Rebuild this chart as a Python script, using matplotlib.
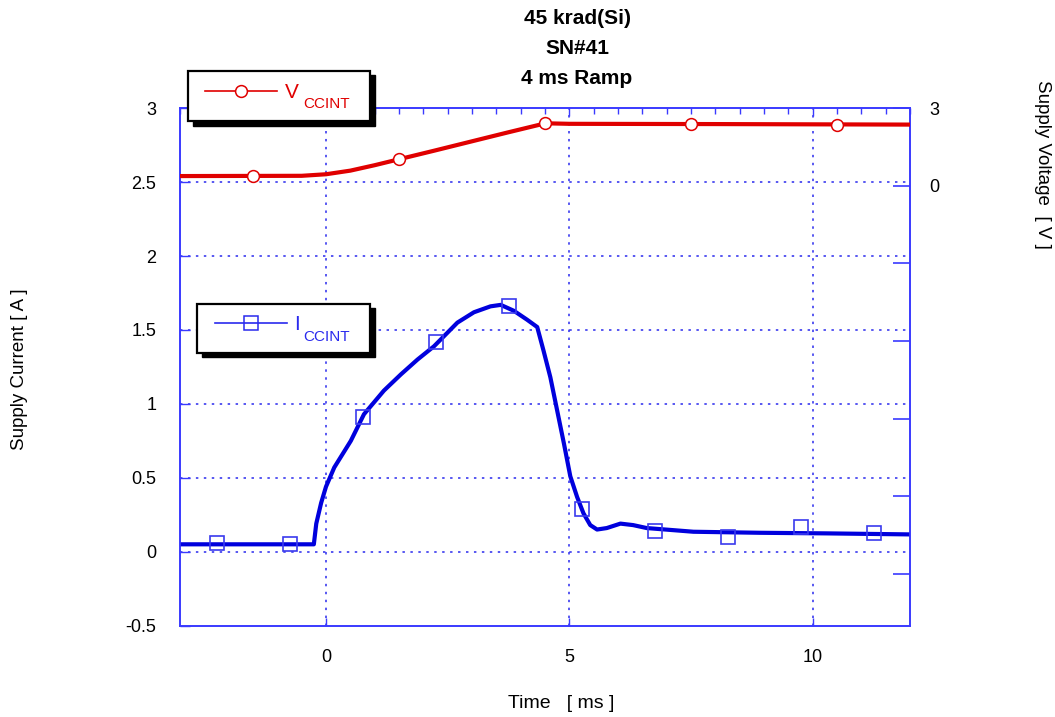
import matplotlib
matplotlib.use('Agg')
import matplotlib.pyplot as plt
from matplotlib.lines import Line2D
from matplotlib.patches import Rectangle

plt.rcParams['font.family'] = ['Liberation Sans', 'DejaVu Sans']

# ---------------- data ----------------
# Supply current I_CCINT [A] vs time [ms]
t_icc = [-3.0, -0.25, -0.2, -0.1, 0.0, 0.17, 0.51, 0.78, 1.19, 1.54, 1.88, 2.22,
         2.49, 2.70, 3.04, 3.38, 3.59, 3.86, 4.13, 4.34, 4.47, 4.61, 4.75, 4.89,
         5.02, 5.16, 5.29, 5.43, 5.57, 5.77, 6.05, 6.31, 6.59, 7.55, 8.91, 10.28, 12.0]
icc = [0.05, 0.05, 0.19, 0.33, 0.44, 0.57, 0.75, 0.93, 1.09, 1.20, 1.30, 1.39,
       1.48, 1.55, 1.62, 1.66, 1.67, 1.63, 1.57, 1.52, 1.36, 1.18, 0.955, 0.73,
       0.51, 0.37, 0.26, 0.18, 0.15, 0.16, 0.19, 0.18, 0.16, 0.135, 0.128, 0.124, 0.117]
t_icc_mk = [-2.25, -0.75, 0.75, 2.25, 3.75, 5.25, 6.75, 8.25, 9.75, 11.25]
icc_mk = [0.06, 0.05, 0.91, 1.42, 1.66, 0.29, 0.14, 0.10, 0.165, 0.128]

# Supply voltage V_CCINT [V] vs time [ms]
t_vcc = [-3.0, -0.5, 0.0, 0.5, 1.0, 1.5, 2.22, 2.97, 3.72, 4.51, 5.0, 8.0, 12.0]
vcc = [0.38, 0.39, 0.45, 0.59, 0.80, 1.03, 1.36, 1.71, 2.06, 2.42, 2.40, 2.39, 2.37]
t_vcc_mk = [-1.5, 1.5, 4.5, 7.5, 10.5]
vcc_mk = [0.38, 1.03, 2.42, 2.39, 2.35]

x_ticks = [0, 5, 10]
y_ticks_left = [-0.5, 0, 0.5, 1, 1.5, 2, 2.5, 3]
y_tick_labels_left = ['-0.5', '0', '0.5', '1', '1.5', '2', '2.5', '3']
y_ticks_right = [3, 0, -3, -6, -9, -12, -15]
y_tick_labels_right = ['3', '0', '', '', '', '', '']

# ---------------- styling ----------------
W, H = 1055, 717
RED = '#e00000'
BLUE = '#0000dd'
SPINE = '#3a3aff'
GRID = '#2a2aee'

def fx(px):
    return px / W

def fy(py):
    return 1 - py / H

fig = plt.figure(figsize=(W / 100, H / 100), dpi=100)
ax = fig.add_axes([fx(180), fy(625.6), fx(910) - fx(180), fy(108.3) - fy(625.6)])
ax2 = ax.twinx()

# current (left axis)
ax.plot(t_icc, icc, color=BLUE, lw=3.0, zorder=3)
ax.plot(t_icc_mk, icc_mk, ls='none', marker='s', ms=10, mfc='none',
        mec='#3a3aee', mew=1.2, zorder=4)

ax.set_xlim(-3, 12)
ax.set_ylim(-0.5, 3)
ax.set_xticks(x_ticks)
ax.set_xticklabels([str(v) for v in x_ticks])
ax.set_yticks(y_ticks_left)
ax.set_yticklabels(y_tick_labels_left)
ax.set_xticks([v * 0.5 for v in range(-6, 25)], minor=True)
ax.tick_params(axis='y', direction='in', length=7, width=1, color=SPINE,
               labelsize=13, pad=17)
ax.tick_params(axis='x', which='major', direction='in', length=6, width=1,
               color=SPINE, labelsize=13, pad=17, top=True)
ax.tick_params(axis='x', which='minor', direction='in', length=4, width=1,
               color=SPINE, top=True, bottom=False)

for v in [0, 0.5, 1, 1.5, 2, 2.5]:
    ax.axhline(v, color=GRID, lw=1.1, ls=(0, (1.6, 3.6)), zorder=1)
for v in x_ticks:
    ax.axvline(v, color=GRID, lw=1.1, ls=(0, (1.6, 3.6)), zorder=1)

for sp in ax.spines.values():
    sp.set_color(SPINE)
    sp.set_linewidth(1.2)

# voltage (right axis)
ax2.plot(t_vcc, vcc, color=RED, lw=3.0, zorder=3)
ax2.plot(t_vcc_mk, vcc_mk, ls='none', marker='o', ms=8.5, mfc='white',
         mec=RED, mew=1.1, zorder=4)
ax2.set_ylim(-17, 3)
ax2.set_yticks(y_ticks_right)
ax2.set_yticklabels(y_tick_labels_right)
ax2.tick_params(axis='y', direction='in', length=12, width=1.2, color=SPINE,
                labelsize=13, pad=14)
for sp in ax2.spines.values():
    sp.set_color(SPINE)
    sp.set_linewidth(1.2)

# axis labels
fig.text(fx(20), fy(369), 'Supply Current [ A ]', rotation=90, ha='center',
         va='center', fontsize=13.5)
fig.text(fx(1042), fy(164), 'Supply Voltage  [ V ]', rotation=-90, ha='center',
         va='center', fontsize=13.5)
fig.text(fx(561), fy(704), 'Time   [ ms ]', ha='center', va='center', fontsize=14)

# title
fig.text(fx(577), fy(19), '45 krad(Si)', ha='center', va='center', fontsize=15,
         fontweight='bold')
fig.text(fx(577), fy(49), 'SN#41', ha='center', va='center', fontsize=15,
         fontweight='bold')
fig.text(fx(577), fy(79), '4 ms Ramp', ha='center', va='center', fontsize=15,
         fontweight='bold')

# custom legend boxes with black drop shadow
def legend_box(x0, y0, x1, y1, color, marker, mfc, msize, main, sub,
               lx0, lx1, ly, mx, tx, tbase, sx, sbase):
    fig.add_artist(Rectangle((fx(x0 + 4.5), fy(y1 + 4.5)), fx(x1) - fx(x0),
                             fy(y0) - fy(y1), transform=fig.transFigure,
                             facecolor='black', edgecolor='black', zorder=10))
    fig.add_artist(Rectangle((fx(x0), fy(y1)), fx(x1) - fx(x0), fy(y0) - fy(y1),
                             transform=fig.transFigure, facecolor='white',
                             edgecolor='black', lw=1.6, zorder=11))
    fig.add_artist(Line2D([fx(lx0), fx(lx1)], [fy(ly), fy(ly)],
                          transform=fig.transFigure, color=color, lw=1.2, zorder=12))
    fig.add_artist(Line2D([fx(mx)], [fy(ly)], transform=fig.transFigure,
                          ls='none', marker=marker, ms=msize, mfc=mfc, mec=color,
                          mew=1.1, zorder=13))
    fig.text(fx(tx), fy(tbase), main, color=color, fontsize=15, ha='left',
             va='baseline', zorder=13)
    fig.text(fx(sx), fy(sbase), sub, color=color, fontsize=11, ha='left',
             va='baseline', zorder=13)

legend_box(188, 71, 370, 121, RED, 'o', 'white', 8.5, 'V', 'CCINT',
           205, 277, 91, 241, 285, 97.7, 303, 108.3)
legend_box(197, 304, 370, 353, '#2a2aee', 's', 'none', 10, 'I', 'CCINT',
           215, 287, 322.7, 251, 294, 330.5, 303, 341)

fig.savefig('out.png', dpi=100)
